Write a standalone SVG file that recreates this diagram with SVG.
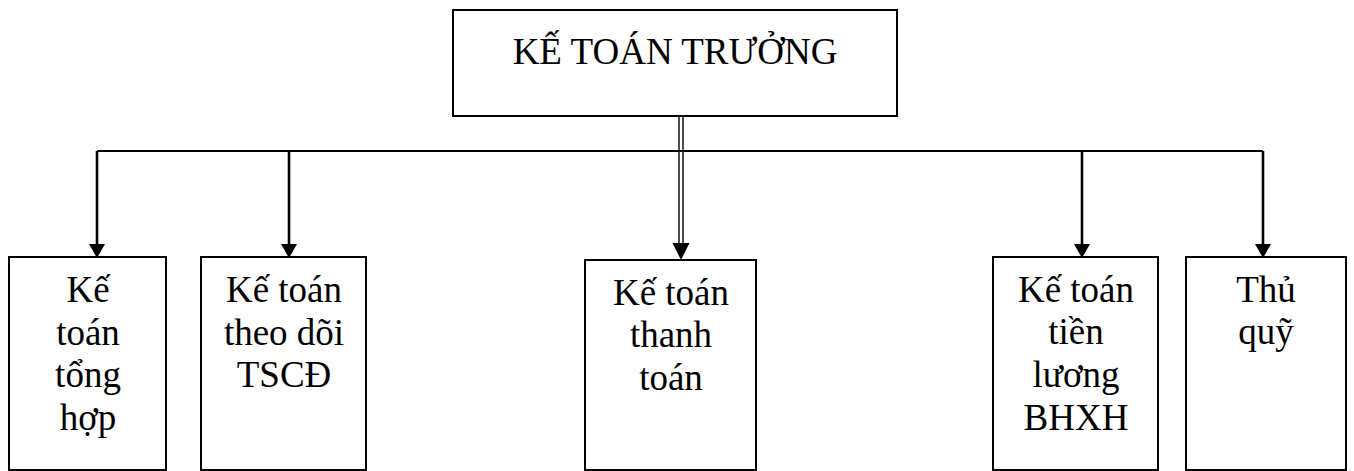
<svg xmlns="http://www.w3.org/2000/svg" width="1354" height="471" viewBox="0 0 1354 471">
  <style>
    .box { fill: #ffffff; stroke: #000000; stroke-width: 2; }
    .lbl { font-family: "Liberation Serif", "Times New Roman", serif; font-size: 37px; fill: #000000; text-anchor: middle; }
    .bus { fill: none; stroke: #000000; stroke-width: 2; }
    .drop { fill: none; stroke: #000000; stroke-width: 2.6; }
    .rail { fill: none; stroke: #000000; stroke-width: 1.4; }
  </style>
  <defs>
    <marker id="head" viewBox="0 0 16 14" refX="8" refY="14" markerWidth="16" markerHeight="14" markerUnits="userSpaceOnUse" orient="auto-start-reverse">
      <path d="M0,0 L16,0 L8,14 Z" fill="#000000"/>
    </marker>
  </defs>

  <!-- connectors -->
  <g id="connectors">
    <!-- horizontal bus linking the five departments -->
    <line class="bus" x1="97" y1="151" x2="1263" y2="151"/>
    <!-- drops into each department box -->
    <line class="drop" x1="97" y1="151" x2="97" y2="245"/>
    <path d="M89,244 L105,244 L97,258 Z" fill="#000000"/>
    <line class="drop" x1="289" y1="151" x2="289" y2="245"/>
    <path d="M281,244 L297,244 L289,258 Z" fill="#000000"/>
    <line class="drop" x1="1082" y1="151" x2="1082" y2="245"/>
    <path d="M1074,244 L1090,244 L1082,258 Z" fill="#000000"/>
    <line class="drop" x1="1263" y1="151" x2="1263" y2="245"/>
    <path d="M1255,244 L1271,244 L1263,258 Z" fill="#000000"/>
    <!-- double rail from the chief accountant down to the payments box -->
    <line class="rail" x1="679" y1="116" x2="679" y2="246"/>
    <line class="rail" x1="683" y1="116" x2="683" y2="246"/>
    <path d="M672.5,243 L689.5,243 L681,260 Z" fill="#000000"/>
  </g>

  <g id="ke-toan-truong">
    <rect class="box" x="453" y="10" width="444" height="106"/>
    <text class="lbl" x="675" y="64">KẾ TOÁN TRƯỞNG</text>
  </g>

  <g id="ke-toan-tong-hop">
    <rect class="box" x="9" y="257" width="157" height="213"/>
    <text class="lbl" x="88" y="302">Kế</text>
    <text class="lbl" x="88" y="345">toán</text>
    <text class="lbl" x="88" y="387">tổng</text>
    <text class="lbl" x="88" y="430">hợp</text>
  </g>

  <g id="ke-toan-tscd">
    <rect class="box" x="201" y="257" width="165" height="213"/>
    <text class="lbl" x="284" y="302">Kế toán</text>
    <text class="lbl" x="284" y="345">theo dõi</text>
    <text class="lbl" x="284" y="387">TSCĐ</text>
  </g>

  <g id="ke-toan-thanh-toan">
    <rect class="box" x="585" y="260" width="171" height="210"/>
    <text class="lbl" x="671" y="305">Kế toán</text>
    <text class="lbl" x="671" y="347">thanh</text>
    <text class="lbl" x="671" y="390">toán</text>
  </g>

  <g id="ke-toan-tien-luong">
    <rect class="box" x="993" y="257" width="165" height="213"/>
    <text class="lbl" x="1076" y="302">Kế toán</text>
    <text class="lbl" x="1076" y="344">tiền</text>
    <text class="lbl" x="1076" y="387">lương</text>
    <text class="lbl" x="1076" y="430">BHXH</text>
  </g>

  <g id="thu-quy">
    <rect class="box" x="1186" y="257" width="160" height="213"/>
    <text class="lbl" x="1266" y="302">Thủ</text>
    <text class="lbl" x="1266" y="344">quỹ</text>
  </g>
</svg>
